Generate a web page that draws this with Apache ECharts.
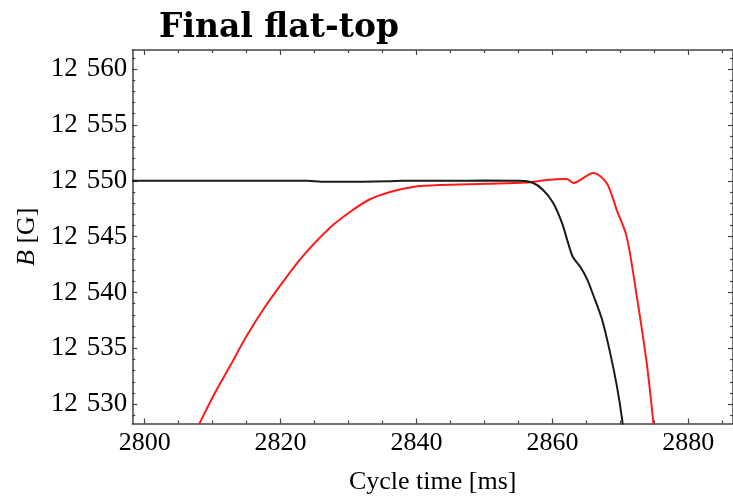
<!DOCTYPE html>
<html>
<head>
<meta charset="utf-8">
<script src="https://cdn.jsdelivr.net/npm/echarts@6/dist/echarts.min.js"></script>
<style>html,body{margin:0;padding:0;background:#fff}#c{width:733px;height:496px}</style>
</head>
<body>
<div id="c"></div>
<script>
// ---- data ----
const blackTime = [2798.2, 2805, 2815, 2824, 2826, 2832, 2836, 2838, 2845, 2850, 2855.2, 2857.1, 2858.6, 2860.1, 2861.4, 2862.3, 2863.0, 2864.1, 2865.1, 2866.0, 2867.3, 2868.5, 2869.5, 2870.25, 2870.55];
const blackB    = [12550.0, 12550.0, 12550.0, 12550.0, 12549.92, 12549.92, 12549.95, 12550.0, 12550.0, 12550.02, 12550.0, 12549.82, 12549.2, 12548.04, 12546.25, 12544.46, 12543.2, 12542.3, 12541.2, 12539.8, 12537.6, 12534.6, 12531.6, 12528.7, 12526.9];
const redTime = [2808.0, 2810.1, 2812.56, 2815.0, 2817.45, 2820.4, 2823.34, 2827.27, 2830.21, 2833.0, 2836.1, 2839.48, 2843.46, 2850.33, 2856.22, 2859.16, 2862.1, 2863.08, 2866.02, 2867.99, 2869.46, 2870.93, 2872.41, 2873.88, 2874.85, 2875.1];
const redB    = [12528.2, 12530.74, 12533.42, 12536.1, 12538.48, 12541.0, 12543.3, 12545.8, 12547.2, 12548.3, 12549.0, 12549.45, 12549.62, 12549.73, 12549.85, 12550.07, 12550.15, 12549.8, 12550.7, 12549.8, 12547.4, 12545.0, 12539.7, 12533.7, 12528.4, 12526.4];
const xMajorTicks = [2800, 2820, 2840, 2860, 2880];
const xMinorTicks = [2805, 2810, 2815, 2825, 2830, 2835, 2845, 2850, 2855, 2865, 2870, 2875, 2885];
const yMajorTicks = [12530, 12535, 12540, 12545, 12550, 12555, 12560];
const yMinorTicks = [];
for (let v = 12529; v <= 12561; v++) { if (v % 5 !== 0) yMinorTicks.push(v); }
const xRange = [2798.18, 2886.58];
const yRange = [12528.28, 12561.70];

const axisColor = '#444';
const serif = '"Liberation Serif", "Times New Roman", serif';
const fmtX = v => String(v);
const fmtY = v => String(v).replace(/(\d+)(\d{3})$/, '$1\u2004$2');

function xAx(pos, ticks, len, withLabel, showLine) {
  return {
    type: 'value', position: pos, min: xRange[0], max: xRange[1],
    axisLine: { show: showLine, onZero: false, lineStyle: { color: axisColor, width: 1.5 } },
    axisTick: { show: true, inside: true, length: len, customValues: ticks, lineStyle: { color: axisColor, width: 1.2 } },
    axisLabel: withLabel ? { show: true, customValues: ticks, margin: 7, color: '#000', fontFamily: serif, fontSize: 26, formatter: fmtX } : { show: false },
    splitLine: { show: false }
  };
}
function yAx(pos, ticks, len, withLabel, showLine) {
  return {
    type: 'value', position: pos, min: yRange[0], max: yRange[1],
    axisLine: { show: showLine, onZero: false, lineStyle: { color: axisColor, width: 1.5 } },
    axisTick: { show: true, inside: true, length: len, customValues: ticks, lineStyle: { color: axisColor, width: 1.2 } },
    axisLabel: withLabel ? { show: true, customValues: ticks, margin: 5, color: '#000', fontFamily: serif, fontSize: 27, formatter: fmtY } : { show: false },
    splitLine: { show: false }
  };
}

const xAxes = [
  xAx('bottom', xMajorTicks, 5, true, true),
  xAx('bottom', xMinorTicks, 3, false, false),
  xAx('top', xMajorTicks, 5, false, true),
  xAx('top', xMinorTicks, 3, false, false)
];
Object.assign(xAxes[0], { name: 'Cycle time [ms]', nameLocation: 'middle', nameGap: 46,
  nameTextStyle: { color: '#000', fontFamily: serif, fontSize: 26 } });
const yAxes = [
  yAx('left', yMajorTicks, 5, true, true),
  yAx('left', yMinorTicks, 3, false, false),
  yAx('right', yMajorTicks, 5, false, true),
  yAx('right', yMinorTicks, 3, false, false)
];
Object.assign(yAxes[0], { name: '{i|B} [G]', nameLocation: 'middle', nameGap: 90, nameRotate: 90,
  nameTextStyle: { color: '#000', fontFamily: serif, fontSize: 26, rich: { i: { fontStyle: 'italic', fontFamily: serif, fontSize: 26, color: '#000' } } } });

const chart = echarts.init(document.getElementById('c'), null, { renderer: 'canvas' });
chart.setOption({
  animation: false,
  backgroundColor: '#fff',
  title: { text: 'Final flat-top', left: 154, top: 7,
    textStyle: { fontFamily: '"DejaVu Serif", serif', fontWeight: 'bold', fontSize: 33, color: '#000' } },
  grid: { left: 132.3, top: 50, right: 0, bottom: 72.5, containLabel: false, outerBoundsMode: 'none' },
  xAxis: xAxes,
  yAxis: yAxes,
  series: [
    { type: 'line', data: blackTime.map((t, i) => [t, blackB[i]]), showSymbol: false, smooth: 0.3,
      lineStyle: { color: '#1a1a1a', width: 2 }, clip: true, z: 3 },
    { type: 'line', data: redTime.map((t, i) => [t, redB[i]]), showSymbol: false, smooth: 0.3,
      lineStyle: { color: '#ff1a1a', width: 2 }, clip: true, z: 2 }
  ]
});
</script>
</body>
</html>
